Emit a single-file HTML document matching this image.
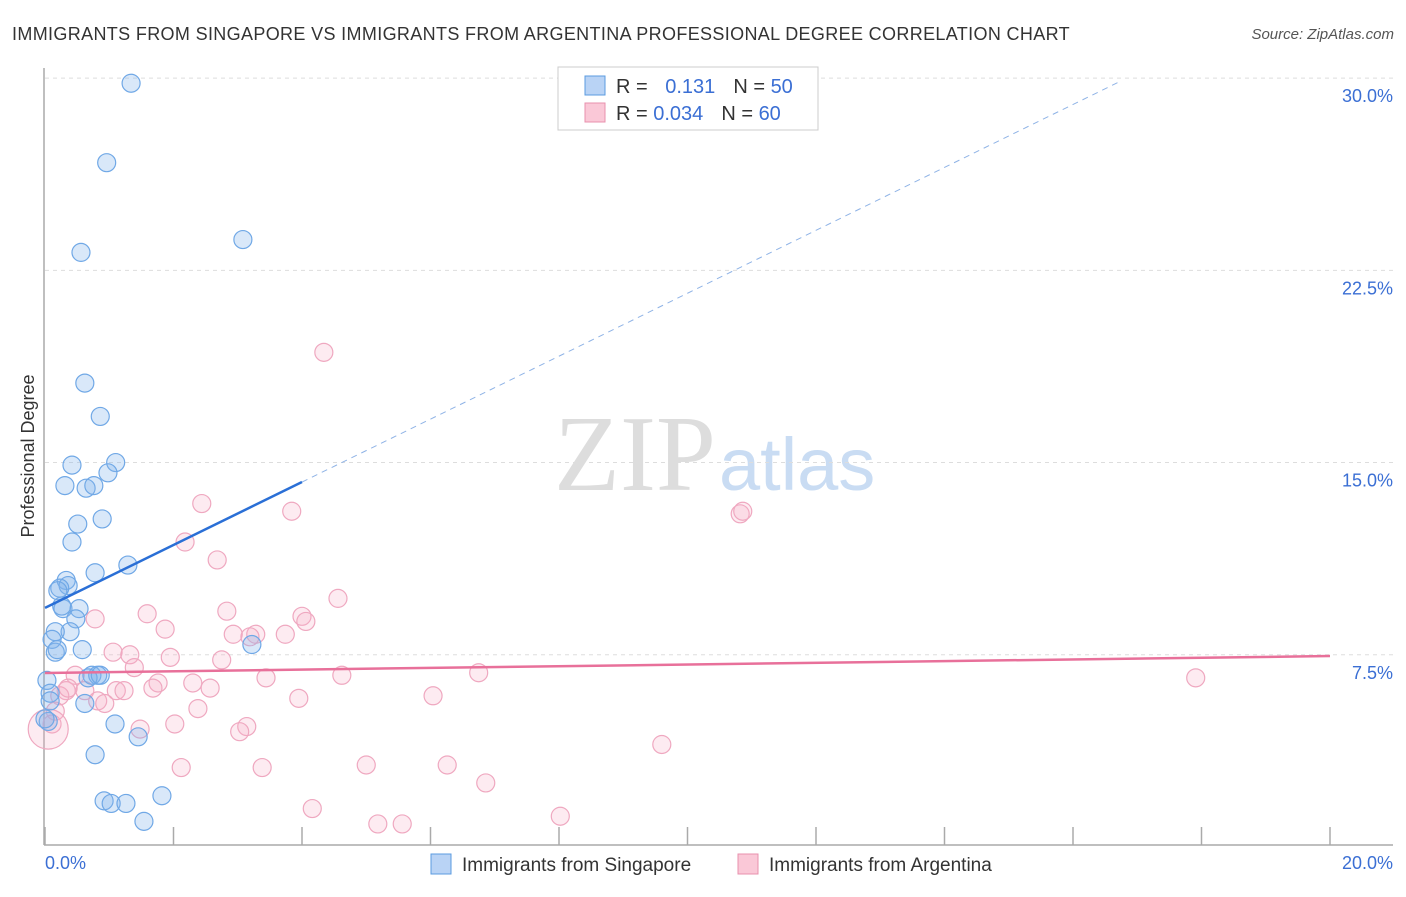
<!DOCTYPE html>
<html><head><meta charset="utf-8"><style>
body{margin:0;background:#fff;font-family:"Liberation Sans",sans-serif}
</style></head><body>
<svg width="1406" height="892" viewBox="0 0 1406 892" xmlns="http://www.w3.org/2000/svg" font-family="Liberation Sans, sans-serif">
<text x="12" y="40" font-size="18" fill="#333" letter-spacing="0.35">IMMIGRANTS FROM SINGAPORE VS IMMIGRANTS FROM ARGENTINA PROFESSIONAL DEGREE CORRELATION CHART</text>
<text x="1394" y="39" font-size="15" fill="#555" font-style="italic" text-anchor="end">Source: ZipAtlas.com</text>
<text x="716" y="490" font-size="108" fill="#ddd" text-anchor="end" font-family="Liberation Serif, serif">ZIP</text>
<text x="719" y="490" font-size="74" fill="#c9dcf3">atlas</text>
<g id="grid"></g>
<g id="axes"></g>
<g id="pts"></g>
<g id="trend"></g>
<text transform="translate(34,456) rotate(-90)" font-size="18" fill="#333" text-anchor="middle">Professional Degree</text>
<text x="45" y="869" font-size="18" fill="#3b6fd4">0.0%</text>
<text x="1393" y="869" font-size="18" fill="#3b6fd4" text-anchor="end">20.0%</text>
<g>
<rect x="558" y="67" width="260" height="63" fill="#fff" stroke="#ccc"/>
<rect x="585" y="76" width="20" height="19" fill="#b9d3f5" stroke="#5b9be0"/>
<rect x="585" y="103" width="20" height="19" fill="#fac8d7" stroke="#e890ae"/>
<text x="616" y="93" font-size="20" fill="#333">R = <tspan fill="#3b6fd4" dx="12">0.131</tspan><tspan dx="18">N = </tspan><tspan fill="#3b6fd4">50</tspan></text>
<text x="616" y="120" font-size="20" fill="#333">R = <tspan fill="#3b6fd4">0.034</tspan><tspan dx="18">N = </tspan><tspan fill="#3b6fd4">60</tspan></text>
</g>
<g>
<rect x="431" y="854" width="20" height="20" fill="#b9d3f5" stroke="#5b9be0"/>
<text x="462" y="871" font-size="19" fill="#333">Immigrants from Singapore</text>
<rect x="738" y="854" width="20" height="20" fill="#fac8d7" stroke="#e890ae"/>
<text x="769" y="871" font-size="19" fill="#333">Immigrants from Argentina</text>
</g>
</svg>
<script>
const yTicks=[7.5,15,22.5,30];
const yTickLabels=["7.5%","15.0%","22.5%","30.0%"];
const xTicks=[0,2,4,6,8,10,12,14,16,18,20];
const blueX=[1.34,0.96,0.56,3.08,0.62,0.86,0.42,1.10,0.98,0.31,0.64,0.76,0.89,0.51,0.42,1.29,0.78,0.33,0.36,0.23,0.20,0.28,0.53,0.48,0.39,0.16,0.11,0.16,0.19,0.58,3.22,0.73,0.82,0.67,0.86,0.03,0.08,0.62,1.09,1.45,0.78,0.92,1.03,1.26,1.82,1.54,0.05,0.08,0.26,0.0];
const blueY=[29.8,26.7,23.2,23.7,18.1,16.8,14.9,15.0,14.6,14.1,14.0,14.1,12.8,12.6,11.9,11.0,10.7,10.4,10.2,10.1,10.0,9.3,9.3,8.9,8.4,8.4,8.1,7.6,7.7,7.7,7.9,6.7,6.7,6.6,6.7,6.5,6.0,5.6,4.8,4.3,3.6,1.8,1.7,1.7,2.0,1.0,4.9,5.7,9.4,5.0];
const pinkX=[4.34,2.44,3.84,10.82,10.86,2.18,2.68,4.56,1.59,2.83,4.00,4.06,0.78,1.87,2.93,3.28,3.74,3.19,1.06,1.32,1.95,1.39,2.75,6.75,4.62,3.44,17.91,0.47,1.76,2.30,2.57,1.11,1.23,1.68,0.33,0.62,0.23,0.82,3.95,6.04,0.93,2.38,2.02,1.48,3.14,3.03,0.16,0.11,0.05,9.60,2.12,3.38,5.00,6.26,6.86,4.16,5.18,5.56,8.02,0.36];
const pinkY=[19.3,13.4,13.1,13.0,13.1,11.9,11.2,9.7,9.1,9.2,9.0,8.8,8.9,8.5,8.3,8.3,8.3,8.2,7.6,7.5,7.4,7.0,7.3,6.8,6.7,6.6,6.6,6.7,6.4,6.4,6.2,6.1,6.1,6.2,6.1,6.1,5.9,5.7,5.8,5.9,5.6,5.4,4.8,4.6,4.7,4.5,5.3,4.8,4.6,4.0,3.1,3.1,3.2,3.2,2.5,1.5,0.9,0.9,1.2,6.2];
const blueTrend=[9.33,14.24]; // y at x=0 and x=4
const blueDashEnd=16.73;
const pinkTrend=[6.79,7.45]; // y at x=0 and x=20
const NS="http://www.w3.org/2000/svg";
const sx=v=>45+v/20*1285;
const sy=v=>847-v*25.63;
function mk(t,a,p){const e=document.createElementNS(NS,t);for(const k in a)e.setAttribute(k,a[k]);document.getElementById(p).appendChild(e);return e;}
yTicks.forEach((t,i)=>{
 const l=mk('line',{x1:45,x2:1393,y1:sy(t),y2:sy(t),stroke:'#ddd','stroke-dasharray':'4,4'},'grid');
 
 
 const tx=mk('text',{x:1393,y:sy(t)+24,'font-size':18,fill:'#3b6fd4','text-anchor':'end'},'grid');
 tx.textContent=yTickLabels[i];
 
 
});
const ya=mk('line',{x1:44,x2:44,y1:68,y2:845,stroke:'#aaa','stroke-width':1.5},'axes');


const xa=mk('line',{x1:44,x2:1393,y1:845,y2:845,stroke:'#aaa','stroke-width':1.5},'axes');


xTicks.forEach(t=>{
 const l=mk('line',{x1:sx(t),x2:sx(t),y1:827,y2:845,stroke:'#aaa','stroke-width':1.5},'axes');
 
 
});
pinkX.forEach((x,i)=>{
 const c=mk('circle',{cx:sx(x),cy:sy(pinkY[i]),r:(i==48?20:9),fill:'rgba(248,175,200,0.25)',stroke:'#efa8c0','stroke-width':1.2},'pts');
 
 
});
blueX.forEach((x,i)=>{
 const c=mk('circle',{cx:sx(x),cy:sy(blueY[i]),r:9,fill:'rgba(130,180,235,0.3)',stroke:'#70a8e6','stroke-width':1.2},'pts');
 
 
});
const bs=(blueTrend[1]-blueTrend[0])/4;
const b1=mk('line',{x1:sx(0),y1:sy(blueTrend[0]),x2:sx(4),y2:sy(blueTrend[1]),stroke:'#2a6fd6','stroke-width':2.5},'trend');


const b2=mk('line',{x1:sx(4),y1:sy(blueTrend[1]),x2:sx(blueDashEnd),y2:sy(blueTrend[0]+bs*blueDashEnd),stroke:'#8fb3e6','stroke-width':1,'stroke-dasharray':'6,5'},'trend');


const p1=mk('line',{x1:sx(0),y1:sy(pinkTrend[0]),x2:sx(20),y2:sy(pinkTrend[1]),stroke:'#e8709a','stroke-width':2.5},'trend');


</script>
</body></html>
